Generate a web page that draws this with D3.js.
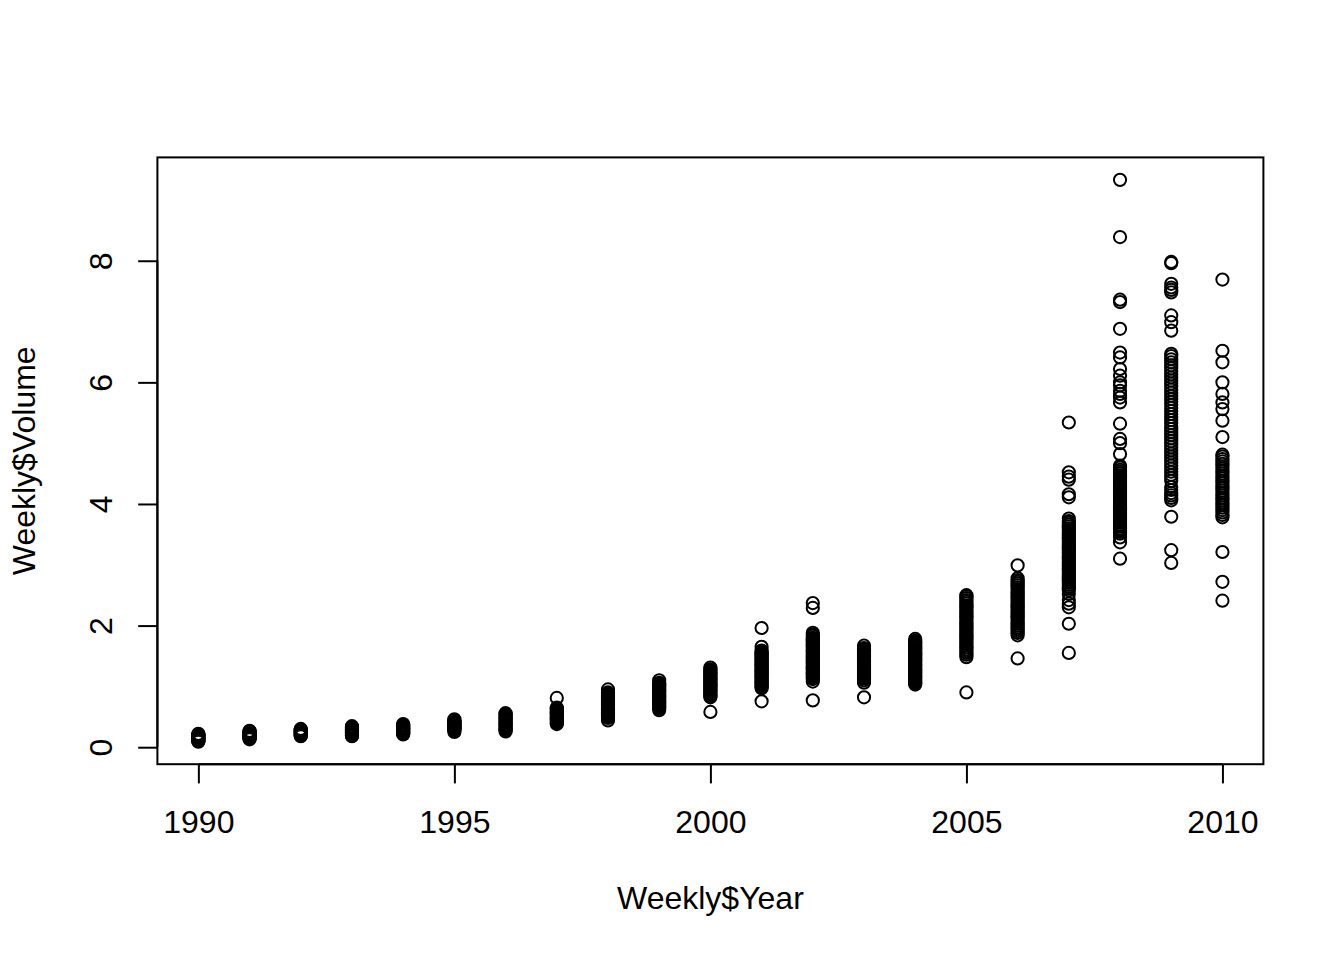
<!DOCTYPE html>
<html>
<head>
<meta charset="utf-8">
<script src="https://cdn.jsdelivr.net/npm/d3@7"></script>
<style>
    body { margin: 0; background: #fff; }
    text { font-family: "Liberation Sans", Arial, sans-serif; fill: #000; }
</style>
</head>
<body>
<svg id="chart" width="1344" height="960"></svg>
<script>
    // Weekly$Volume, one array per year
    var years = [1990, 1991, 1992, 1993, 1994, 1995, 1996, 1997, 1998, 1999, 2000,
                 2001, 2002, 2003, 2004, 2005, 2006, 2007, 2008, 2009, 2010];

    var v1990 = [0.09, 0.10, 0.11, 0.12, 0.13, 0.14, 0.15, 0.16, 0.17, 0.18, 0.19, 0.20, 0.21, 0.22];
    var v1991 = [0.13, 0.14, 0.15, 0.16, 0.17, 0.18, 0.19, 0.20, 0.21, 0.22, 0.23, 0.24, 0.25, 0.26, 0.27];
    var v1992 = [0.18, 0.19, 0.20, 0.21, 0.22, 0.23, 0.24, 0.25, 0.26, 0.27, 0.28, 0.29, 0.30];
    var v1993 = [0.18, 0.19, 0.20, 0.21, 0.22, 0.23, 0.24, 0.25, 0.26, 0.27, 0.28, 0.29, 0.30,
                 0.31, 0.32, 0.33, 0.345];
    var v1994 = [0.21, 0.22, 0.23, 0.24, 0.25, 0.26, 0.27, 0.28, 0.29, 0.30, 0.31, 0.32, 0.33,
                 0.34, 0.35, 0.36, 0.37, 0.38];
    var v1995 = [0.25, 0.28, 0.29, 0.30, 0.31, 0.32, 0.33, 0.34, 0.35, 0.36, 0.37, 0.38, 0.39,
                 0.40, 0.41, 0.42, 0.43, 0.44, 0.46];
    var v1996 = [0.26, 0.28, 0.30, 0.32, 0.34, 0.36, 0.38, 0.40, 0.42, 0.44, 0.46, 0.48, 0.50,
                 0.52, 0.54, 0.56];
    var v1997 = [0.38, 0.40, 0.42, 0.44, 0.46, 0.48, 0.50, 0.52, 0.54, 0.56, 0.58, 0.60, 0.62,
                 0.64, 0.65, 0.81];
    var v1998 = [0.44, 0.48, 0.50, 0.52, 0.54, 0.56, 0.58, 0.60, 0.62, 0.64, 0.66, 0.68, 0.70,
                 0.72, 0.74, 0.76, 0.78, 0.80, 0.82, 0.84, 0.86, 0.88, 0.90, 0.95];
    var v1999 = [0.61, 0.64, 0.66, 0.68, 0.70, 0.72, 0.74, 0.76, 0.78, 0.80, 0.82, 0.84, 0.86,
                 0.88, 0.90, 0.92, 0.94, 0.96, 0.98, 1.00, 1.02, 1.04, 1.06, 1.10];
    var v2000 = [0.58, 0.82, 0.84, 0.86, 0.88, 0.90, 0.92, 0.94, 0.96, 0.98, 1.00, 1.02, 1.04,
                 1.06, 1.08, 1.10, 1.12, 1.14, 1.16, 1.18, 1.20, 1.22, 1.24, 1.26, 1.28, 1.31];
    var v2001 = [0.755, 0.97, 0.99, 1.01, 1.03, 1.05, 1.07, 1.09, 1.11, 1.13, 1.15, 1.17, 1.19,
                 1.21, 1.23, 1.25, 1.27, 1.29, 1.31, 1.33, 1.35, 1.37, 1.39, 1.41, 1.43, 1.45,
                 1.47, 1.49, 1.51, 1.53, 1.55, 1.57, 1.59, 1.65, 1.96];
    var v2002 = [0.77, 1.08, 1.12, 1.14, 1.16, 1.18, 1.20, 1.22, 1.24, 1.26, 1.28, 1.30, 1.32,
                 1.34, 1.36, 1.38, 1.40, 1.42, 1.44, 1.46, 1.48, 1.50, 1.52, 1.54, 1.56, 1.58,
                 1.60, 1.62, 1.64, 1.66, 1.68, 1.70, 1.72, 1.74, 1.76, 1.78, 1.80, 1.83, 1.85,
                 1.88, 2.29, 2.37];
    var v2003 = [0.82, 1.06, 1.10, 1.13, 1.15, 1.17, 1.19, 1.21, 1.23, 1.25, 1.27, 1.29, 1.31,
                 1.33, 1.35, 1.37, 1.39, 1.41, 1.43, 1.45, 1.47, 1.49, 1.51, 1.53, 1.55, 1.57,
                 1.59, 1.61, 1.63, 1.67];
    var v2004 = [1.03, 1.05, 1.07, 1.09, 1.11, 1.13, 1.15, 1.17, 1.19, 1.21, 1.23, 1.25, 1.27,
                 1.29, 1.31, 1.33, 1.35, 1.37, 1.39, 1.41, 1.43, 1.45, 1.47, 1.49, 1.51, 1.53,
                 1.55, 1.57, 1.59, 1.61, 1.63, 1.65, 1.67, 1.69, 1.71, 1.73, 1.75, 1.78];
    var v2005 = [0.90, 1.48, 1.52, 1.55, 1.58, 1.61, 1.64, 1.67, 1.70, 1.73, 1.76, 1.79, 1.82,
                 1.85, 1.88, 1.91, 1.94, 1.97, 2.00, 2.03, 2.06, 2.09, 2.12, 2.15, 2.18, 2.21,
                 2.24, 2.27, 2.30, 2.33, 2.36, 2.39, 2.42, 2.45, 2.48, 2.50];
    var v2006 = [1.46, 1.84, 1.88, 1.91, 1.94, 1.97, 2.00, 2.03, 2.06, 2.09, 2.12, 2.15, 2.18,
                 2.21, 2.24, 2.27, 2.30, 2.33, 2.36, 2.39, 2.42, 2.45, 2.48, 2.51, 2.54, 2.57,
                 2.60, 2.63, 2.66, 2.69, 2.72, 2.75, 2.78, 2.99];
    var v2007 = [1.55, 2.03, 2.30, 2.36, 2.42, 2.52, 2.58, 2.61, 2.64, 2.67, 2.70, 2.73, 2.76,
                 2.79, 2.82, 2.85, 2.88, 2.91, 2.94, 2.97, 3.00, 3.03, 3.06, 3.09, 3.12, 3.15,
                 3.18, 3.21, 3.24, 3.27, 3.30, 3.33, 3.36, 3.39, 3.42, 3.45, 3.48, 3.51, 3.54,
                 3.57, 3.60, 3.63, 3.66, 3.69, 3.72, 3.76, 4.11, 4.16, 4.40, 4.45, 4.52, 5.34];
    var v2008 = [3.10, 3.37, 3.45, 3.51, 3.54, 3.57, 3.60, 3.63, 3.66, 3.69, 3.72, 3.75, 3.78,
                 3.81, 3.84, 3.87, 3.90, 3.93, 3.96, 3.99, 4.02, 4.05, 4.08, 4.11, 4.14, 4.17,
                 4.20, 4.23, 4.26, 4.29, 4.32, 4.35, 4.38, 4.41, 4.44, 4.47, 4.50, 4.53, 4.56,
                 4.60, 4.63, 4.82, 5.00, 5.07, 5.32, 5.67, 5.75, 5.81, 5.86, 5.95, 6.00, 6.11,
                 6.22, 6.41, 6.49, 6.88, 7.32, 7.36, 8.39, 9.33];
    var v2009 = [3.03, 3.24, 3.79, 4.06, 4.10, 4.14, 4.18, 4.23, 4.28, 4.38, 4.43, 4.48, 4.53,
                 4.58, 4.63, 4.68, 4.73, 4.78, 4.83, 4.88, 4.93, 4.98, 5.03, 5.08, 5.13, 5.18,
                 5.23, 5.28, 5.33, 5.38, 5.43, 5.48, 5.53, 5.58, 5.63, 5.68, 5.73, 5.78, 5.83,
                 5.88, 5.93, 5.98, 6.03, 6.08, 6.13, 6.18, 6.23, 6.28, 6.33, 6.38, 6.43, 6.47,
                 6.85, 6.99, 7.10, 7.48, 7.52, 7.56, 7.62, 7.96, 7.98];
    var v2010 = [2.41, 2.72, 3.21, 3.78, 3.82, 3.86, 3.90, 3.94, 3.98, 4.02, 4.06, 4.10, 4.14,
                 4.18, 4.22, 4.26, 4.30, 4.34, 4.38, 4.42, 4.46, 4.50, 4.54, 4.58, 4.62, 4.66,
                 4.70, 4.74, 4.78, 4.81, 5.10, 5.37, 5.56, 5.67, 5.81, 6.00, 6.33, 6.52, 7.69];

    var volumes = [v1990, v1991, v1992, v1993, v1994, v1995, v1996, v1997, v1998, v1999,
                   v2000, v2001, v2002, v2003, v2004, v2005, v2006, v2007, v2008, v2009, v2010];

    var xTicks = [1990, 1995, 2000, 2005, 2010];
    var yTicks = [0, 2, 4, 6, 8];

    (function(){
        var points = [];
        years.forEach(function(yr, i){
            volumes[i].forEach(function(v){ points.push({year: yr, volume: v}) });
        });

        // plot region like R's default mar = c(5.1, 4.1, 4.1, 2.1) at 192 dpi
        var left = 157.4, right = 1263.4, top = 157.4, bottom = 764.2;

        // R pads the data range by 4% on each side
        function padded(ext){
            var d = (ext[1] - ext[0]) * 0.04;
            return [ext[0] - d, ext[1] + d];
        }

        var x = d3.scaleLinear()
            .domain(padded(d3.extent(points, function(d){ return d.year })))
            .range([left, right]);

        var y = d3.scaleLinear()
            .domain(padded(d3.extent(points, function(d){ return d.volume })))
            .range([bottom, top]);

        var svg = d3.select("#chart");

        svg.append("g")
            .selectAll("circle")
            .data(points)
            .enter()
            .append("circle")
            .attr("cx", function(d){ return x(d.year) })
            .attr("cy", function(d){ return y(d.volume) })
            .attr("r", 6.1)
            .attr("fill", "none")
            .attr("stroke", "#000")
            .attr("stroke-width", 2);

        // x axis
        var xAxis = svg.append("g")
            .attr("transform", "translate(0," + bottom + ")")
            .call(d3.axisBottom(x).tickValues(xTicks).tickSize(19.2).tickSizeOuter(0).tickFormat(d3.format("d")));
        xAxis.select(".domain")
            .attr("d", "M" + x(xTicks[0]) + ",0H" + x(xTicks[xTicks.length - 1]));
        xAxis.selectAll("line, .domain").attr("stroke-width", 2);
        xAxis.selectAll("text")
            .attr("y", 69)
            .attr("dy", null)
            .style("font-size", "32px")
            .style("font-family", "'Liberation Sans', Arial, sans-serif");

        // y axis, labels parallel to the axis
        var yAxis = svg.append("g")
            .attr("transform", "translate(" + left + ",0)")
            .call(d3.axisLeft(y).tickValues(yTicks).tickSize(19.2).tickSizeOuter(0));
        yAxis.select(".domain")
            .attr("d", "M0," + y(yTicks[0]) + "V" + y(yTicks[yTicks.length - 1]));
        yAxis.selectAll("line, .domain").attr("stroke-width", 2);
        yAxis.selectAll("text")
            .attr("x", null)
            .attr("dy", null)
            .attr("transform", "translate(-45,0) rotate(-90)")
            .attr("text-anchor", "middle")
            .style("font-size", "32px")
            .style("font-family", "'Liberation Sans', Arial, sans-serif");

        // plot box
        svg.append("rect")
            .attr("x", left)
            .attr("y", top)
            .attr("width", right - left)
            .attr("height", bottom - top)
            .attr("fill", "none")
            .attr("stroke", "#000")
            .attr("stroke-width", 2);

        svg.append("text")
            .attr("x", (left + right) / 2)
            .attr("y", 909)
            .attr("text-anchor", "middle")
            .style("font-size", "32px")
            .text("Weekly$Year");

        svg.append("text")
            .attr("transform", "translate(35," + ((top + bottom) / 2) + ") rotate(-90)")
            .attr("text-anchor", "middle")
            .style("font-size", "32px")
            .text("Weekly$Volume");
    }());
</script>
</body>
</html>
